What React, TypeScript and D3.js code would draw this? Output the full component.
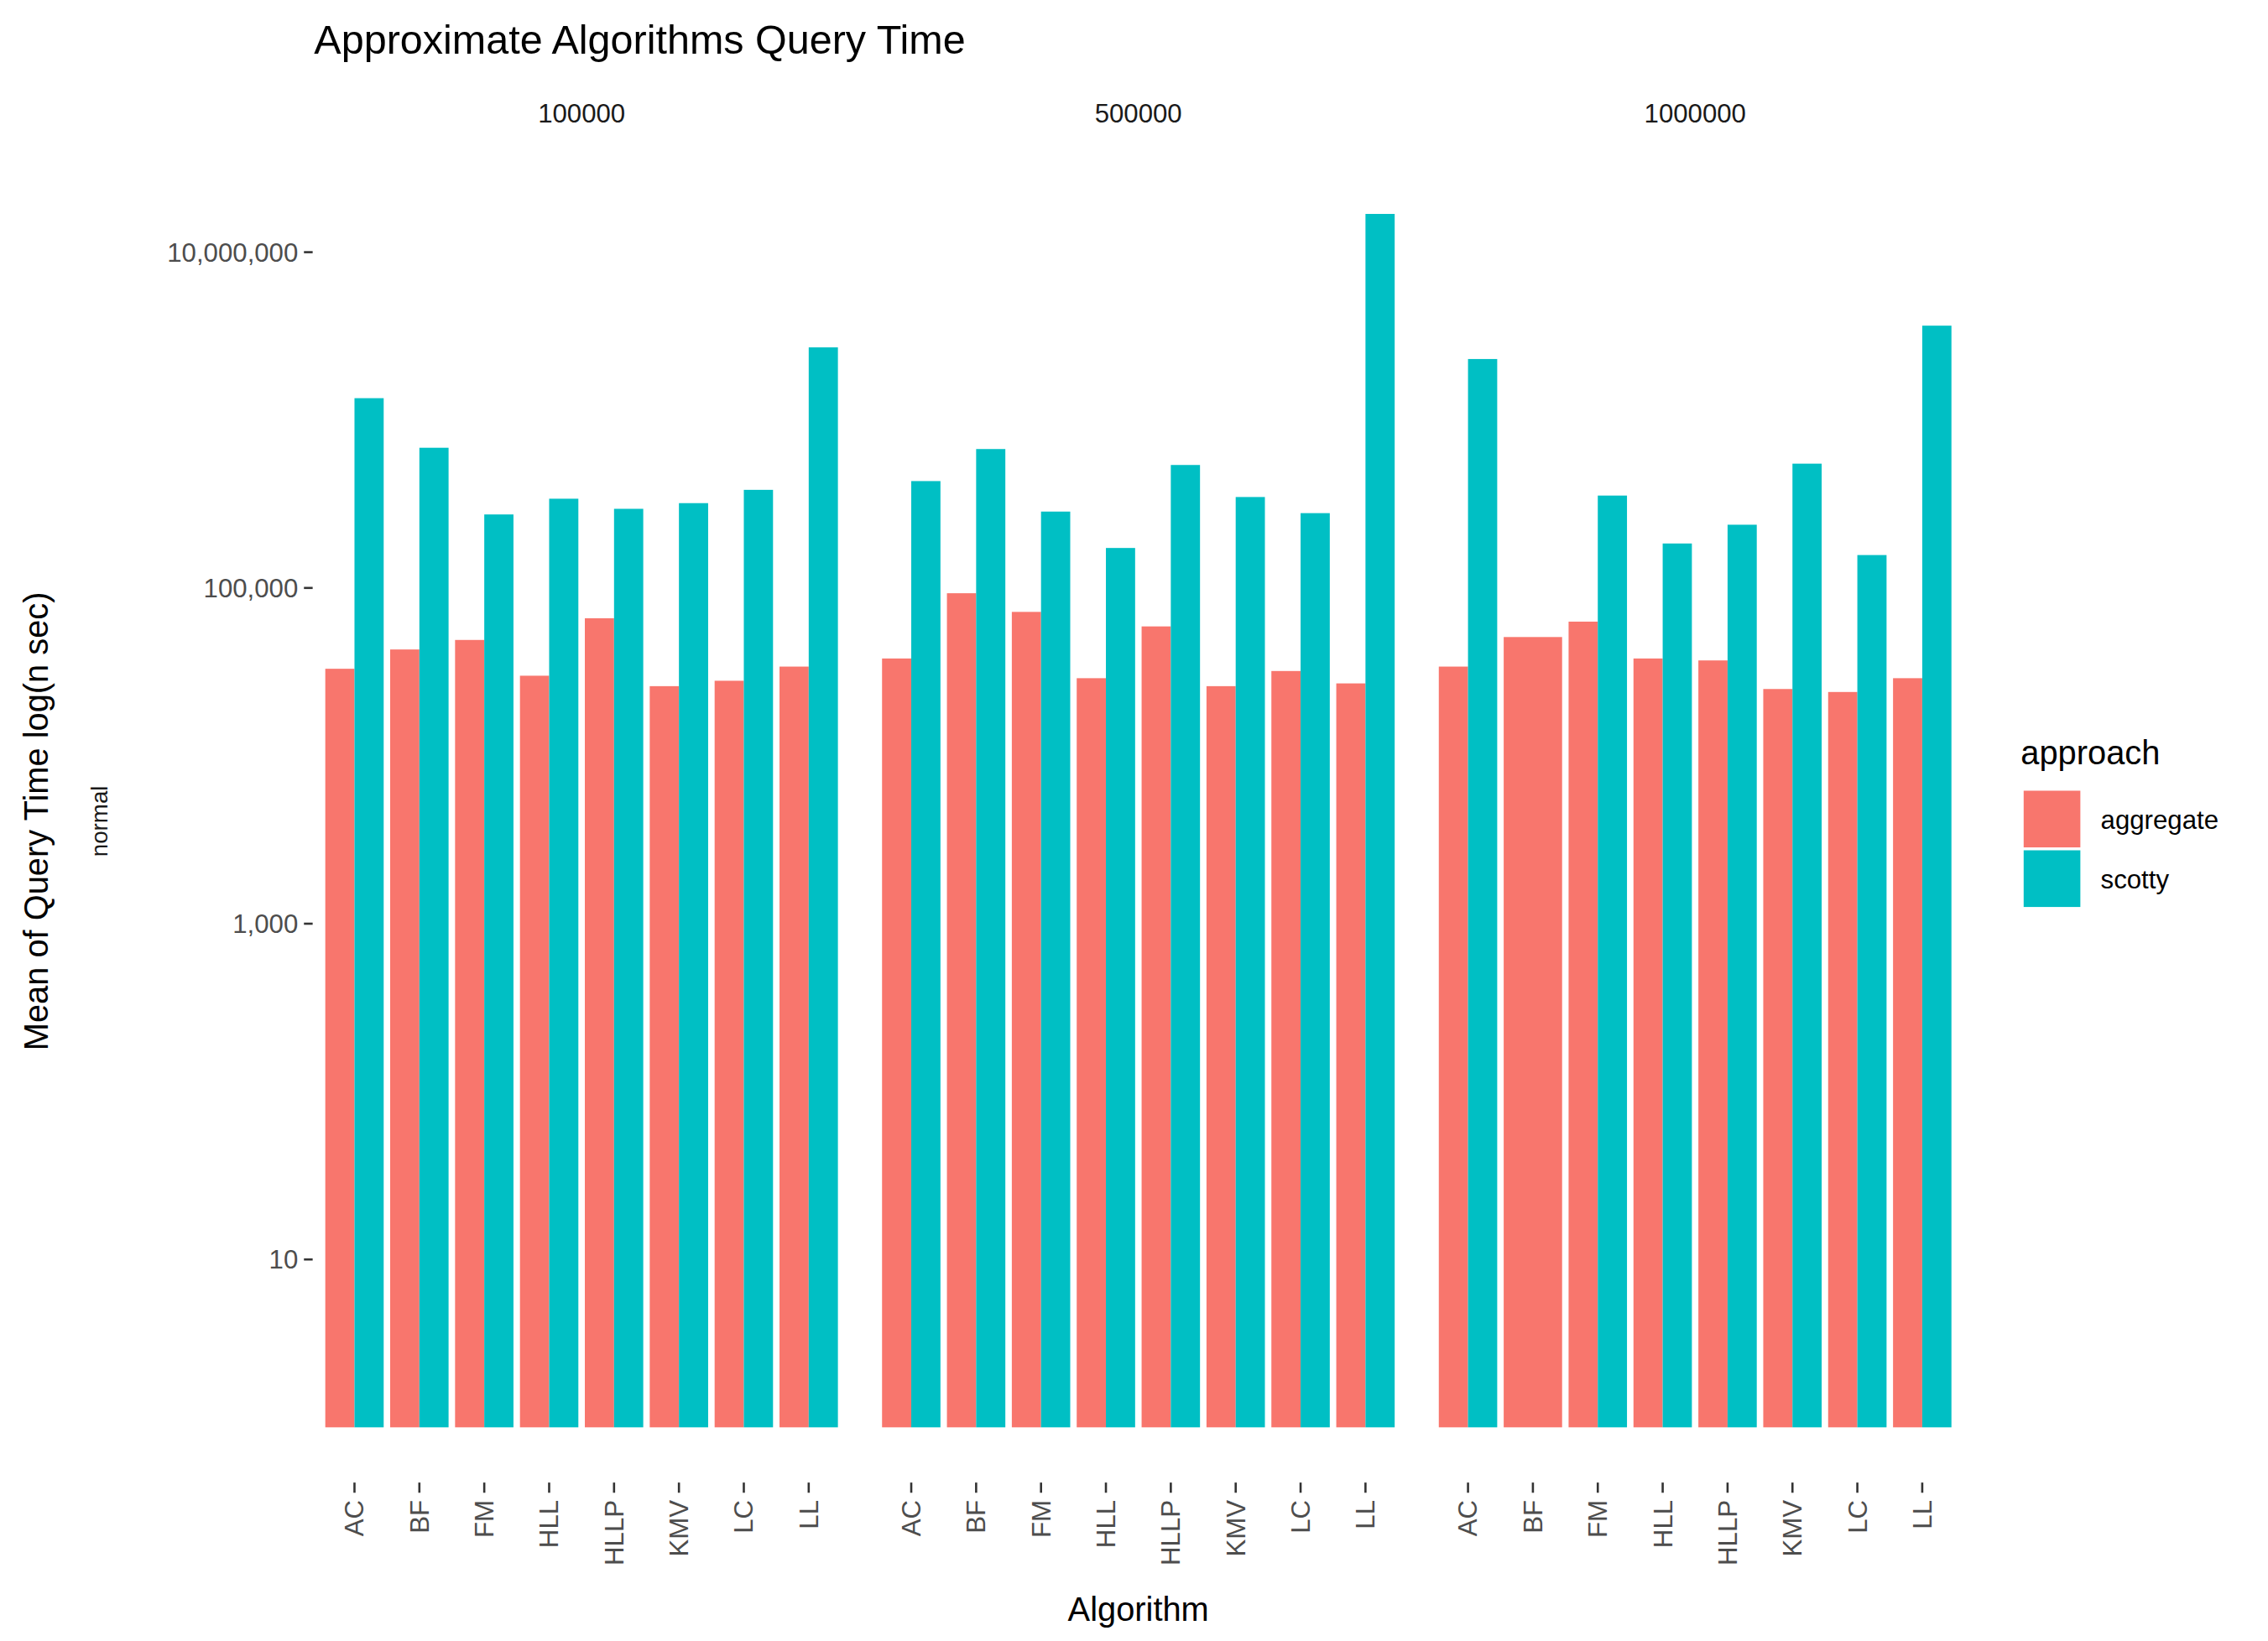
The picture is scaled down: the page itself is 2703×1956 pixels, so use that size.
import * as d3 from "d3";

const facets = ["100000", "500000", "1000000"];
const algorithms = ["AC", "BF", "FM", "HLL", "HLLP", "KMV", "LC", "LL"];
const approaches = ["aggregate", "scotty"];
const colors = ["#F8766D", "#00BFC4"];

// mean query time per facet, in algorithm order
const aggregate100k = [33000, 43000, 49000, 30000, 66000, 26000, 28000, 34000];
const scotty100k = [1350000, 684000, 274000, 340000, 296000, 320000, 384000, 2710000];
const aggregate500k = [38000, 93000, 72000, 29000, 59000, 26000, 32000, 27000];
const scotty500k = [433000, 672000, 285000, 173000, 540000, 348000, 279000, 16900000];
const aggregate1m = [34000, 51000, 63000, 38000, 37000, 25000, 24000, 29000];
const scotty1m = [2310000, null, 355000, 184000, 238000, 550000, 157000, 3650000];

const series = [
  [aggregate100k, scotty100k],
  [aggregate500k, scotty500k],
  [aggregate1m, scotty1m],
];
const yTicks = [10, 1000, 100000, 10000000];

const W = 1560;
const H = 1129;
const panels = [
  [215, 585],
  [598, 968],
  [981, 1351],
];
const top = 120;
const bottom = 982;

export default function App() {
  const y = d3.scaleLog().domain([1, 10 ** (862 / 115.5)]).range([bottom, top]);
  const fmt = d3.format(",");
  const font = "Liberation Sans, Arial, sans-serif";

  return (
    <svg
      width={2703}
      height={1956}
      viewBox={`0 0 ${W} ${H}`}
      style={{ position: "absolute", left: 0, top: 0, background: "#fff" }}
      fontFamily={font}
    >
      <text x={216} y={37} fontSize={28} fill="#000">
        Approximate Algorithms Query Time
      </text>
      {yTicks.map((t) => (
        <g key={t}>
          <line x1={209} x2={215} y1={y(t)} y2={y(t)} stroke="#333" strokeWidth={1.5} />
          <text x={205} y={y(t)} dy="0.35em" textAnchor="end" fontSize={18} fill="#4D4D4D">
            {fmt(t)}
          </text>
        </g>
      ))}
      {facets.map((f, fi) => {
        const [x0, x1] = panels[fi];
        const x = d3.scaleBand().domain(algorithms).range([x0, x1]).paddingInner(0.1).paddingOuter(0.35 / 0.9 * 0.5);
        return (
          <g key={f}>
            <text x={(x0 + x1) / 2} y={84} textAnchor="middle" fontSize={18} fill="#1A1A1A">
              {f}
            </text>
            {algorithms.map((a, ai) => {
              const vals = series[fi].map((s) => s[ai]);
              const present = approaches.map((_, k) => k).filter((k) => vals[k] != null);
              const inner = d3
                .scaleBand<number>()
                .domain(present)
                .range([x(a)!, x(a)! + x.bandwidth()]);
              const cx = x(a)! + x.bandwidth() / 2;
              return (
                <g key={a}>
                  {present.map((k) => (
                    <rect
                      key={k}
                      x={inner(k)}
                      width={inner.bandwidth()}
                      y={y(vals[k] as number)}
                      height={bottom - y(vals[k] as number)}
                      fill={colors[k]}
                    />
                  ))}
                  <line x1={cx} x2={cx} y1={1020} y2={1027} stroke="#333" strokeWidth={1.5} />
                  <text
                    transform={`translate(${cx},1032) rotate(-90)`}
                    dy="0.35em"
                    textAnchor="end"
                    fontSize={18}
                    fill="#4D4D4D"
                  >
                    {a}
                  </text>
                </g>
              );
            })}
          </g>
        );
      })}
      <text x={783} y={1115} textAnchor="middle" fontSize={23} fill="#000">
        Algorithm
      </text>
      <text transform="translate(33,565) rotate(-90)" textAnchor="middle" fontSize={23} fill="#000">
        Mean of Query Time log(n sec)
      </text>
      <text transform="translate(74,565) rotate(-90)" textAnchor="middle" fontSize={16} fill="#1A1A1A">
        normal
      </text>
      <text x={1390} y={526} fontSize={23} fill="#000">
        approach
      </text>
      {approaches.map((ap, k) => (
        <g key={ap}>
          <rect x={1392} y={544 + k * 41} width={39} height={39} fill={colors[k]} />
          <text x={1445} y={564 + k * 41} dy="0.35em" fontSize={18} fill="#000">
            {ap}
          </text>
        </g>
      ))}
    </svg>
  );
}
